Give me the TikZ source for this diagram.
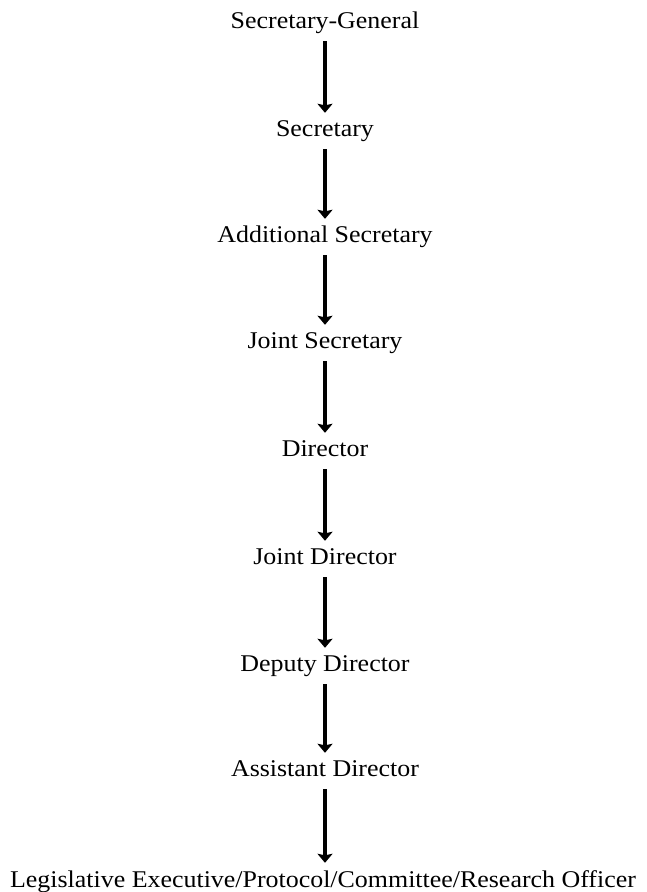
\documentclass[tikz,border=0pt]{standalone}
\usepackage{fontspec}
\setmainfont{Liberation Serif}[FakeStretch=1.08]
\usetikzlibrary{arrows.meta}
\begin{document}
\begin{tikzpicture}[x=1pt, y=1pt, font=\fontsize{24}{28}\selectfont, line join=round,
	post/.style={inner sep=0pt, anchor=base, text height=16pt, text depth=6pt},
	down/.style={line width=3.2pt, -{Stealth[length=9pt, width=15pt, inset=1.5pt]}, shorten <=6pt, shorten >=8pt}]
	\useasboundingbox (0,0) rectangle (646,892);
	\node[post] (sg)   at (325,863) {Secretary-General};
	\node[post] (sec)  at (325,755) {Secretary};
	\node[post] (adds) at (325,649) {Additional Secretary};
	\node[post] (js)   at (325,543) {Joint Secretary};
	\node[post] (dir)  at (325,435) {Director};
	\node[post] (jd)   at (325,327) {Joint Director};
	\node[post] (dd)   at (325,220) {Deputy Director};
	\node[post] (ad)   at (325,115) {Assistant Director};
	\node[post] (lo)   at (323,5)   {Legislative Executive/Protocol/Committee/Research Officer};
	\draw[down] (sg.south)--(sec.north);
	\draw[down] (sec.south)--(adds.north);
	\draw[down] (adds.south)--(js.north);
	\draw[down] (js.south)--(dir.north);
	\draw[down] (dir.south)--(jd.north);
	\draw[down] (jd.south)--(dd.north);
	\draw[down] (dd.south)--(ad.north);
	\draw[down] (ad.south)--(lo.north-|ad.south);
\end{tikzpicture}
\end{document}
